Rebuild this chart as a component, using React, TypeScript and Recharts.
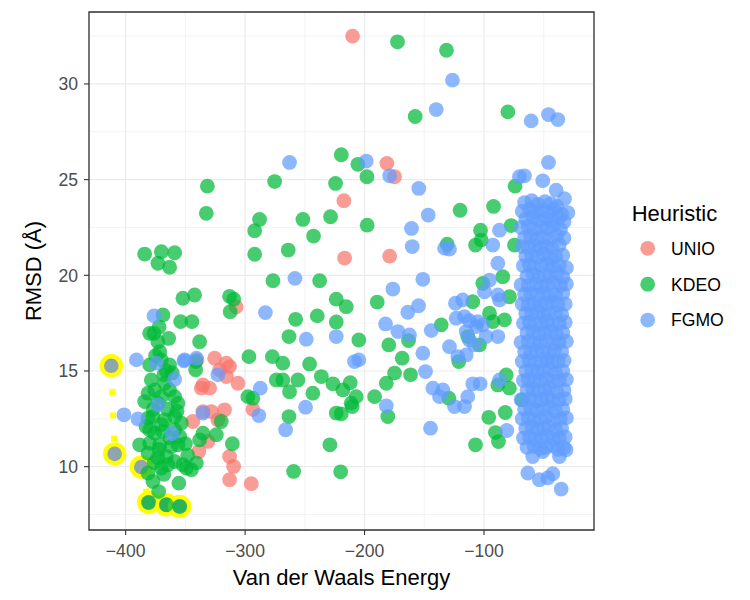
import {
  CartesianGrid,
  Label,
  ReferenceArea,
  Scatter,
  ScatterChart,
  XAxis,
  YAxis,
} from "recharts";

type Pt = [number, number];

const xTicks = [-400, -300, -200, -100];
const xMinorTicks = [-350, -250, -150, -50];
const yTicks = [10, 15, 20, 25, 30];
const yMinorTicks = [7.5, 12.5, 17.5, 22.5, 27.5, 32.5];
const xDomain: [number, number] = [-430.7, -7.9];
const yDomain: [number, number] = [6.69, 33.76];

const heuristics = ["UNIO", "KDEO", "FGMO"];
const heuristicColors = ["#F8766D", "#00BA38", "#619CFF"];

const unio: Pt[] = [
  [-210, 32.5], [-181.3, 25.85], [-174.9, 25.15], [-217.3, 23.9], [-216.7, 20.9],
  [-179, 21.0], [-307.5, 18.35], [-325.5, 15.67], [-315.7, 15.41], [-313, 15.23],
  [-321.3, 15.06], [-340.3, 15.58], [-315.7, 14.71], [-335.3, 14.27], [-329.7, 14.1],
  [-336.7, 14.1], [-306, 14.36], [-335.3, 12.88], [-328.3, 12.88], [-317.2, 12.97],
  [-343.7, 12.36], [-322.8, 12.45], [-331.1, 11.32], [-338.7, 10.79], [-313, 10.53],
  [-309.6, 10.01], [-313, 9.32], [-294.8, 9.11], [-293.5, 13.0],
];

const kdeo: Pt[] = [
  [-172.4, 32.2], [-131.4, 31.76], [-157.6, 28.3], [-80, 28.54], [-219.5, 26.3],
  [-205.6, 25.8], [-198, 25.15], [-224.3, 24.8], [-275.3, 24.9], [-228.5, 23.06],
  [-197.8, 22.62], [-120, 23.4], [-92, 23.6], [-74, 24.66], [-102.9, 22.36],
  [-102.3, 21.84], [-107.1, 21.58], [-77.2, 22.6], [-74.5, 21.58], [-130.8, 21.63],
  [-251.6, 22.92], [-287.9, 22.92], [-292, 22.33], [-242.7, 22.05], [-292, 21.1],
  [-263.9, 21.32], [-331.6, 24.66], [-332.5, 23.24], [-384.1, 21.11], [-370.1, 21.23],
  [-359, 21.18], [-373, 20.63], [-363.2, 20.42], [-276.7, 19.72], [-237.6, 19.72],
  [-313, 18.9], [-309.5, 18.75], [-312.5, 18.1], [-257.7, 17.7], [-239.6, 17.88],
  [-223.7, 18.75], [-215.3, 18.36], [-189.4, 18.6], [-109.4, 18.62], [-101, 19.58],
  [-84.3, 19.93], [-95.4, 18.02], [-92.5, 17.58], [-78.7, 18.88], [-223.7, 17.56],
  [-204.8, 16.62], [-179.7, 16.36], [-163.2, 16.59], [-168.5, 15.67], [-135.8, 17.41],
  [-82.8, 17.67], [-113.6, 16.8], [-103.8, 16.36], [-121.1, 15.49], [-174.9, 14.89],
  [-181.8, 14.36], [-161.5, 14.8], [-226.5, 14.33], [-218.1, 14.01], [-212, 14.39],
  [-236.2, 14.71], [-207, 13.66], [-211.2, 13.32], [-210.3, 13.14], [-223.7, 12.8],
  [-219.5, 12.76], [-191.6, 13.66], [-180.5, 12.62], [-229, 11.14], [-220, 9.73],
  [-259.4, 9.75], [-129.4, 13.58], [-107.1, 11.14], [-96, 12.58], [-90.4, 11.78],
  [-87.9, 11.31], [-82.2, 12.83], [-88.4, 14.27], [-81.4, 14.79], [-78.7, 14.1],
  [-68, 13.49], [-263.3, 16.8], [-296.8, 15.75], [-277.2, 15.75], [-268.4, 15.41],
  [-246, 15.37], [-273.9, 14.53], [-268.4, 14.53], [-262.8, 13.92], [-255.8, 14.53],
  [-243.3, 13.84], [-297.7, 13.66], [-293.5, 13.58], [-263.3, 12.62], [-335.3, 11.75],
  [-324.1, 11.67], [-338.1, 11.4], [-320, 12.36], [-310.7, 11.2], [-340.8, 10.19],
  [-349.2, 9.93], [-341.4, 15.49], [-341.4, 15.06],
  [-352.1, 18.8], [-342.3, 18.97], [-368.8, 17.93], [-354, 17.58], [-344.5, 17.58],
  [-379.9, 16.97], [-376.3, 16.97], [-338.1, 16.53], [-373, 16.53], [-371.5, 16.01],
  [-370.1, 15.58], [-379.9, 15.32], [-363.2, 15.32], [-378.5, 14.53], [-367.4, 14.36],
  [-375.7, 14.01], [-363.2, 14.01], [-381.3, 13.84], [-370.1, 13.66], [-359, 13.66],
  [-384.1, 13.4], [-373, 13.32], [-356.2, 13.32], [-381.3, 12.54], [-377.2, 12.62],
  [-367.4, 12.45], [-359, 12.62], [-353.4, 12.28], [-379.9, 11.93], [-375.7, 11.75],
  [-368.8, 11.84], [-359, 11.93], [-354.8, 11.58], [-388.3, 11.14], [-379.9, 11.23],
  [-371.5, 11.14], [-361.8, 11.05], [-356.2, 11.14], [-381.3, 10.71], [-373, 10.45],
  [-365.9, 10.53], [-359, 10.27], [-352.1, 10.1], [-345, 9.84], [-381.3, 9.67],
  [-370.1, 9.93], [-364.6, 10.1], [-377.2, 9.23], [-355.5, 9.14], [-372.4, 8.7],
  [-366, 15.0], [-375, 15.8], [-364, 16.7], [-372, 17.3], [-368, 14.8],
  [-361, 14.9], [-377, 13.0], [-365, 13.0], [-370, 12.2], [-363, 11.5],
  [-383, 12.1], [-372, 10.9], [-376, 10.2], [-368, 9.6], [-357, 12.9],
  [-350, 11.2], [-348, 10.6],
  [-380.8, 8.13], [-365.9, 8.01], [-354.8, 7.92],
];

const fgmo: Pt[] = [
  [-126.4, 30.2], [-140, 28.66], [-60.5, 28.07], [-46, 28.4], [-38.2, 28.14],
  [-46, 25.9], [-262.8, 25.9], [-198.6, 25.97], [-179, 25.2], [-154.6, 24.54],
  [-146.7, 23.15], [-160.7, 22.45], [-70.3, 25.15], [-66.1, 25.2], [-50.8, 24.94],
  [-39.6, 24.45], [-32.6, 24.0], [-29.8, 23.27], [-92.6, 21.58], [-87, 22.36],
  [-88.4, 20.63], [-133, 21.42], [-128.9, 21.37], [-160.1, 21.5], [-258.3, 19.84],
  [-176.3, 19.28], [-151.2, 19.79], [-283, 18.05], [-154.8, 18.41], [-163.8, 18.07],
  [-123.9, 18.54], [-117.8, 18.71], [-95.4, 19.75], [-99.6, 19.14], [-88.4, 18.97],
  [-87, 18.71], [-223.7, 16.8], [-182.4, 17.46], [-172.1, 17.06], [-162.4, 16.88],
  [-151.2, 15.93], [-144.1, 17.11], [-208.4, 15.49], [-204.8, 15.58], [-149, 14.97],
  [-181.8, 13.18], [-144.8, 12.01], [-142.8, 14.1], [-134.4, 14.01], [-137.2, 13.66],
  [-124.7, 13.14], [-116.3, 13.14], [-113.6, 13.66], [-109.4, 14.33], [-103.2, 14.33],
  [-80.9, 11.89], [-87, 14.53], [-123.3, 17.76], [-116.3, 17.84], [-112.2, 17.63],
  [-105.2, 17.58], [-101, 17.41], [-106.5, 17.32], [-114.9, 17.06], [-112.2, 16.62],
  [-108, 16.36], [-98.2, 16.8], [-88.4, 16.8], [-128.9, 16.27], [-121.9, 15.75],
  [-114.9, 15.84], [-248.8, 16.66], [-287.3, 14.1], [-288.5, 12.67], [-249.4, 13.11],
  [-266.1, 11.93], [-322.8, 14.8], [-350.6, 15.58], [-340.8, 15.67], [-335.3, 12.8],
  [-376.3, 17.88], [-391, 15.58], [-374.3, 15.41], [-351.2, 15.53], [-359, 14.57],
  [-373, 13.23], [-401.4, 12.71], [-389.7, 12.49], [-361.3, 11.72],
  [-63.3, 9.67], [-53.6, 9.32], [-46.6, 9.41], [-42.4, 9.63], [-35.4, 8.83],
  [-50.8, 10.79], [-36.8, 10.53], [-31.3, 10.88], [-59.2, 10.53],
];

// the dense FGMO column near -50
const fgmoCluster: Pt[] = [
  [-66, 23.8], [-60, 23.9], [-55, 23.7], [-49, 23.85], [-44, 23.75], [-39, 23.6],
  [-68, 23.35], [-62, 23.45], [-57, 23.3], [-52, 23.4], [-46, 23.3], [-41, 23.45], [-35, 23.2],
  [-65, 22.95], [-59, 23.05], [-54, 22.9], [-48, 23.0], [-43, 22.85], [-37, 23.0], [-33, 22.8],
  [-69, 22.5], [-63, 22.55], [-58, 22.4], [-52, 22.5], [-47, 22.45], [-42, 22.6], [-36, 22.4],
  [-66, 21.95], [-61, 22.05], [-56, 21.9], [-50, 22.0], [-45, 21.9], [-39, 22.1], [-33, 21.95],
  [-68, 21.5], [-63, 21.45], [-57, 21.55], [-53, 21.4], [-48, 21.5], [-43, 21.45], [-37, 21.6],
  [-65, 21.0], [-60, 21.05], [-55, 20.95], [-50, 21.1], [-44, 20.9], [-40, 21.0], [-34, 21.05],
  [-67, 20.5], [-62, 20.55], [-58, 20.4], [-52, 20.5], [-47, 20.6], [-42, 20.45], [-37, 20.5], [-31, 20.4],
  [-64, 19.95], [-59, 20.05], [-54, 19.9], [-49, 20.0], [-45, 19.95], [-39, 20.1], [-34, 19.9],
  [-69, 19.5], [-63, 19.45], [-57, 19.55], [-52, 19.4], [-47, 19.5], [-42, 19.6], [-36, 19.45], [-31, 19.55],
  [-66, 19.0], [-61, 19.05], [-55, 18.95], [-50, 19.1], [-45, 18.9], [-40, 19.0], [-34, 19.05],
  [-68, 18.5], [-63, 18.45], [-58, 18.55], [-53, 18.4], [-48, 18.5], [-43, 18.6], [-38, 18.45], [-32, 18.5],
  [-65, 18.0], [-60, 17.95], [-55, 18.1], [-50, 17.9], [-46, 18.0], [-40, 18.05], [-35, 17.95],
  [-67, 17.5], [-62, 17.55], [-57, 17.45], [-52, 17.5], [-47, 17.6], [-43, 17.4], [-37, 17.5], [-32, 17.55],
  [-64, 17.0], [-59, 17.05], [-54, 16.95], [-49, 17.0], [-44, 17.1], [-39, 16.9], [-34, 17.0],
  [-69, 16.5], [-63, 16.55], [-58, 16.45], [-53, 16.5], [-48, 16.6], [-42, 16.45], [-37, 16.5], [-31, 16.55],
  [-66, 16.0], [-61, 15.95], [-56, 16.05], [-51, 16.0], [-46, 15.9], [-41, 16.1], [-35, 16.0],
  [-68, 15.5], [-62, 15.55], [-57, 15.45], [-52, 15.5], [-47, 15.6], [-43, 15.45], [-38, 15.5], [-33, 15.55],
  [-65, 15.0], [-60, 15.05], [-55, 14.95], [-50, 15.0], [-45, 15.1], [-40, 14.9], [-34, 15.0],
  [-67, 14.5], [-63, 14.55], [-58, 14.45], [-53, 14.5], [-48, 14.6], [-42, 14.45], [-37, 14.5], [-31, 14.55],
  [-64, 14.0], [-59, 14.05], [-54, 13.95], [-49, 14.0], [-45, 14.1], [-39, 13.9], [-33, 14.0],
  [-69, 13.5], [-62, 13.55], [-57, 13.45], [-52, 13.5], [-47, 13.6], [-43, 13.45], [-37, 13.5], [-32, 13.55],
  [-66, 13.0], [-61, 13.05], [-56, 12.95], [-50, 13.0], [-45, 13.1], [-40, 12.9], [-34, 13.0],
  [-68, 12.5], [-63, 12.55], [-58, 12.45], [-53, 12.5], [-48, 12.6], [-42, 12.45], [-36, 12.5], [-31, 12.55],
  [-65, 12.0], [-60, 12.05], [-55, 11.95], [-50, 12.0], [-46, 12.1], [-40, 11.9], [-35, 12.0],
  [-67, 11.5], [-62, 11.55], [-57, 11.45], [-52, 11.5], [-47, 11.6], [-42, 11.45], [-37, 11.5], [-32, 11.55],
  [-64, 11.0], [-58, 11.05], [-53, 10.95], [-48, 11.0], [-43, 11.1], [-38, 10.9], [-33, 11.0],
];

// points circled in yellow, joined by a dotted path
const highlighted: Pt[] = [
  [-412, 15.27], [-409.2, 10.67], [-386.9, 9.98], [-380.8, 8.13], [-365.9, 8.01], [-354.8, 7.92],
];

const rows = (pts: Pt[]) => pts.map(([x, y]) => ({ x, y }));

const dot = (color: string) => (props: any) =>
  <circle cx={props.cx} cy={props.cy} r={7.4} fill={color} fillOpacity={0.72} />;

const ring = (props: any) => (
  <circle cx={props.cx} cy={props.cy} r={9.5} fill="#8FA6AD" stroke="#FFFF00" strokeWidth={4.4} />
);

const fmt = (v: number) => (v < 0 ? `\u2212${Math.abs(v)}` : `${v}`);

const tickStyle = { fill: "#4D4D4D", fontSize: 17.6 };
const tickLine = { stroke: "#333333", strokeWidth: 1.1 };

export default function App() {
  const series = [unio, kdeo, [...fgmo, ...fgmoCluster]];
  return (
    <div
      style={{
        position: "absolute",
        left: 0,
        top: 0,
        width: 750,
        height: 600,
        background: "#ffffff",
        fontFamily: '"Liberation Sans", Arial, sans-serif',
      }}
    >
      <ScatterChart width={750} height={600} margin={{ top: 12, right: 156, bottom: 20, left: 39 }}>
        <XAxis xAxisId="minor" type="number" dataKey="x" domain={xDomain} ticks={xMinorTicks} hide allowDataOverflow />
        <YAxis yAxisId="minor" type="number" dataKey="y" domain={yDomain} ticks={yMinorTicks} hide allowDataOverflow />
        <CartesianGrid xAxisId="minor" yAxisId="minor" stroke="#EBEBEB" strokeWidth={0.6} />
        <CartesianGrid stroke="#EBEBEB" strokeWidth={1.2} />
        <XAxis
          type="number"
          dataKey="x"
          domain={xDomain}
          ticks={xTicks}
          allowDataOverflow
          height={50}
          tickSize={5}
          tickMargin={10}
          tick={tickStyle}
          tickLine={tickLine}
          axisLine={false}
          tickFormatter={fmt}
        >
          <Label
            content={({ viewBox }: any) => (
              <text
                x={viewBox.x + viewBox.width / 2}
                y={viewBox.y + viewBox.height + 5}
                textAnchor="middle"
                fontSize={22}
                fill="#000000"
              >
                Van der Waals Energy
              </text>
            )}
          />
        </XAxis>
        <YAxis
          type="number"
          dataKey="y"
          domain={yDomain}
          ticks={yTicks}
          allowDataOverflow
          width={50}
          tickSize={5}
          tickMargin={6}
          tick={tickStyle}
          tickLine={tickLine}
          axisLine={false}
        >
          <Label
            content={({ viewBox }: any) => {
              const cx = viewBox.x + 1.5;
              const cy = viewBox.y + viewBox.height / 2;
              return (
                <text
                  x={cx}
                  y={cy}
                  transform={`rotate(-90, ${cx}, ${cy})`}
                  textAnchor="middle"
                  fontSize={22}
                  fill="#000000"
                >
                  RMSD (Å)
                </text>
              );
            }}
          />
        </YAxis>
        <Scatter
          name="highlight"
          data={rows(highlighted)}
          isAnimationActive={false}
          line={{ stroke: "#FFFF00", strokeWidth: 6, strokeDasharray: "6 17.3" }}
          lineType="joint"
          shape={ring}
        />
        {series.map((pts, i) => (
          <Scatter
            key={heuristics[i]}
            name={heuristics[i]}
            data={rows(pts)}
            isAnimationActive={false}
            shape={dot(heuristicColors[i])}
          />
        ))}
        <ReferenceArea
          x1={xDomain[0]}
          x2={xDomain[1]}
          y1={yDomain[0]}
          y2={yDomain[1]}
          fill="none"
          stroke="#333333"
          strokeWidth={1.3}
          ifOverflow="visible"
        />
      </ScatterChart>
      <svg width={130} height={160} style={{ position: "absolute", left: 620, top: 190 }}>
        <text x={11.7} y={30.7} fontSize={22} fill="#000000">
          Heuristic
        </text>
        {heuristics.map((name, i) => (
          <g key={name}>
            <circle cx={27.7} cy={58.3 + i * 35.9} r={7.4} fill={heuristicColors[i]} fillOpacity={0.72} />
            <text x={51} y={58.3 + i * 35.9 + 6.3} fontSize={17.6} fill="#000000">
              {name}
            </text>
          </g>
        ))}
      </svg>
    </div>
  );
}
